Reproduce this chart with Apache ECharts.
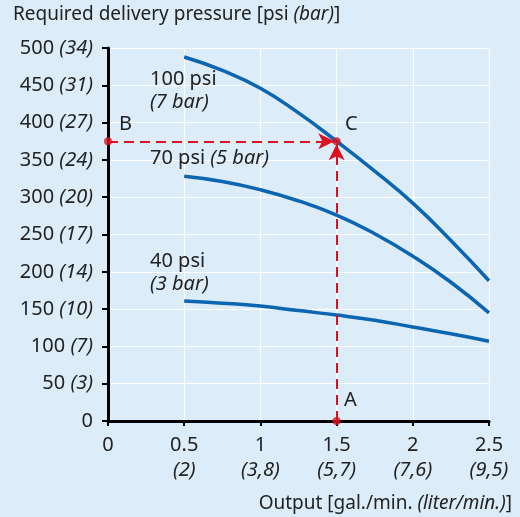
<!DOCTYPE html>
<html><head><meta charset="utf-8">
<script src="https://cdn.jsdelivr.net/npm/echarts@6/dist/echarts.min.js"></script>
<style>html,body{margin:0;padding:0;background:#dcecf8}#c{width:520px;height:517px}</style>
</head><body><div id="c"></div>
<script>
// Data
const xs = [0.5, 0.75, 1, 1.25, 1.5, 1.75, 2, 2.25, 2.5];
const psi100 = [488, 470, 446, 413, 375, 335, 292, 242, 188];
const psi70  = [328, 321, 310, 295, 276, 251, 221, 186, 145];
const psi40  = [161, 158, 154, 148, 142, 135, 126, 117, 107];
const yTickPsi = [0, 50, 100, 150, 200, 250, 300, 350, 400, 450, 500];
const yTickBar = ['', '3', '7', '10', '14', '17', '20', '24', '27', '31', '34'];
const xTickGal = [0, 0.5, 1, 1.5, 2, 2.5];
const xTickLit = ['', '2', '3,8', '5,7', '7,6', '9,5'];
const pointA = [1.5, 0];
const pointB = [0, 375];
const pointC = [1.5, 375];

const FONT = 'Noto Sans';
const TXT = '#222';
const BLUE = '#0b65b0';
const RED = '#dc1020';
const FS = 20;

const chart = echarts.init(document.getElementById('c'));
const zip = arr => xs.map((x, i) => [x, arr[i]]);
const richN = { fontFamily: FONT, fontSize: FS, color: TXT };
const richI = { fontFamily: FONT, fontSize: FS, color: TXT, fontStyle: 'italic' };
const gN = { fontFamily: FONT, fontSize: FS, fill: TXT };
const gI = { fontFamily: FONT, fontSize: FS, fill: TXT, fontStyle: 'italic' };

function txt(left, top, style) {
  return { type: 'text', left: left, top: top, z: 100, style: style };
}

chart.setOption({
  backgroundColor: '#dcecf8',
  animation: false,
  textStyle: { fontFamily: FONT },
  grid: { left: 108, right: 31, top: 48, bottom: 96, containLabel: false },
  xAxis: {
    type: 'value', min: 0, max: 2.5, interval: 0.5,
    axisLine: { show: true, lineStyle: { color: '#000', width: 3 } },
    axisTick: { show: true, length: 5, lineStyle: { color: '#000', width: 2 } },
    splitLine: { show: true, lineStyle: { color: '#fff', width: 1.2 } },
    axisLabel: {
      margin: 12, lineHeight: 25,
      formatter: v => {
        const i = xTickGal.findIndex(t => Math.abs(t - v) < 1e-6);
        const g = String(v);
        const l = i >= 0 ? xTickLit[i] : '';
        return l ? '{n|' + g + '}\n{i|(' + l + ')}' : '{n|' + g + '}';
      },
      rich: {
        n: Object.assign({ lineHeight: 25 }, richN),
        i: Object.assign({ lineHeight: 25 }, richI)
      }
    }
  },
  yAxis: {
    type: 'value', min: 0, max: 500, interval: 50,
    axisLine: { show: true, lineStyle: { color: '#000', width: 3 } },
    axisTick: { show: true, length: 6, lineStyle: { color: '#000', width: 2 } },
    splitLine: { show: true, lineStyle: { color: '#fff', width: 1.2 } },
    axisLabel: {
      margin: 15,
      formatter: v => {
        const i = yTickPsi.indexOf(v);
        const b = i >= 0 ? yTickBar[i] : '';
        return b ? '{n|' + v + ' }{i|(' + b + ')}' : '{n|' + v + '}';
      },
      rich: { n: richN, i: richI }
    }
  },
  series: [
    { type: 'line', data: zip(psi100), smooth: true, symbol: 'none', lineStyle: { color: BLUE, width: 3.5 } },
    { type: 'line', data: zip(psi70), smooth: true, symbol: 'none', lineStyle: { color: BLUE, width: 3.5 } },
    { type: 'line', data: zip(psi40), smooth: true, symbol: 'none', lineStyle: { color: BLUE, width: 3.5 } },
    {
      type: 'scatter', data: [], silent: true,
      markLine: {
        silent: true, symbol: ['none', 'arrow'], symbolSize: [12, 16],
        label: { show: false },
        lineStyle: { color: RED, type: [10, 6], width: 2 },
        data: [
          [{ coord: pointB }, { coord: [pointC[0] - 0.015, pointC[1]] }],
          [{ coord: pointA }, { coord: [pointC[0], pointC[1] - 4] }]
        ]
      }
    },
    {
      type: 'scatter', data: [pointA, pointB, pointC], symbolSize: 8, z: 10,
      itemStyle: { color: RED }
    }
  ],
  graphic: [
    txt(13, 5, { text: '{n|Required delivery pressure [psi }{i|(bar)}{n|]}', rich: { n: Object.assign({}, gN, { fontSize: 19 }), i: Object.assign({}, gI, { fontSize: 19 }) } }),
    { type: 'text', right: 8, top: 494, z: 100, style: { text: '{n|Output [gal./min. }{i|(liter/min.)}{n|]}', rich: { n: Object.assign({}, gN, { fontSize: 19 }), i: Object.assign({}, gI, { fontSize: 19 }) } } },
    txt(150, 69, { text: '100 psi', font: FS + 'px "Noto Sans"', fill: TXT }),
    txt(150, 92, { text: '(7 bar)', font: 'italic ' + FS + 'px "Noto Sans"', fill: TXT }),
    txt(150, 148, { text: '{n|70 psi }{i|(5 bar)}', rich: { n: gN, i: gI } }),
    txt(150, 251, { text: '40 psi', font: FS + 'px "Noto Sans"', fill: TXT }),
    txt(150, 274, { text: '(3 bar)', font: 'italic ' + FS + 'px "Noto Sans"', fill: TXT }),
    txt(119, 114, { text: 'B', font: FS + 'px "Noto Sans"', fill: TXT }),
    txt(345, 114, { text: 'C', font: FS + 'px "Noto Sans"', fill: TXT }),
    txt(344, 390, { text: 'A', font: FS + 'px "Noto Sans"', fill: TXT })
  ]
});
</script></body></html>
